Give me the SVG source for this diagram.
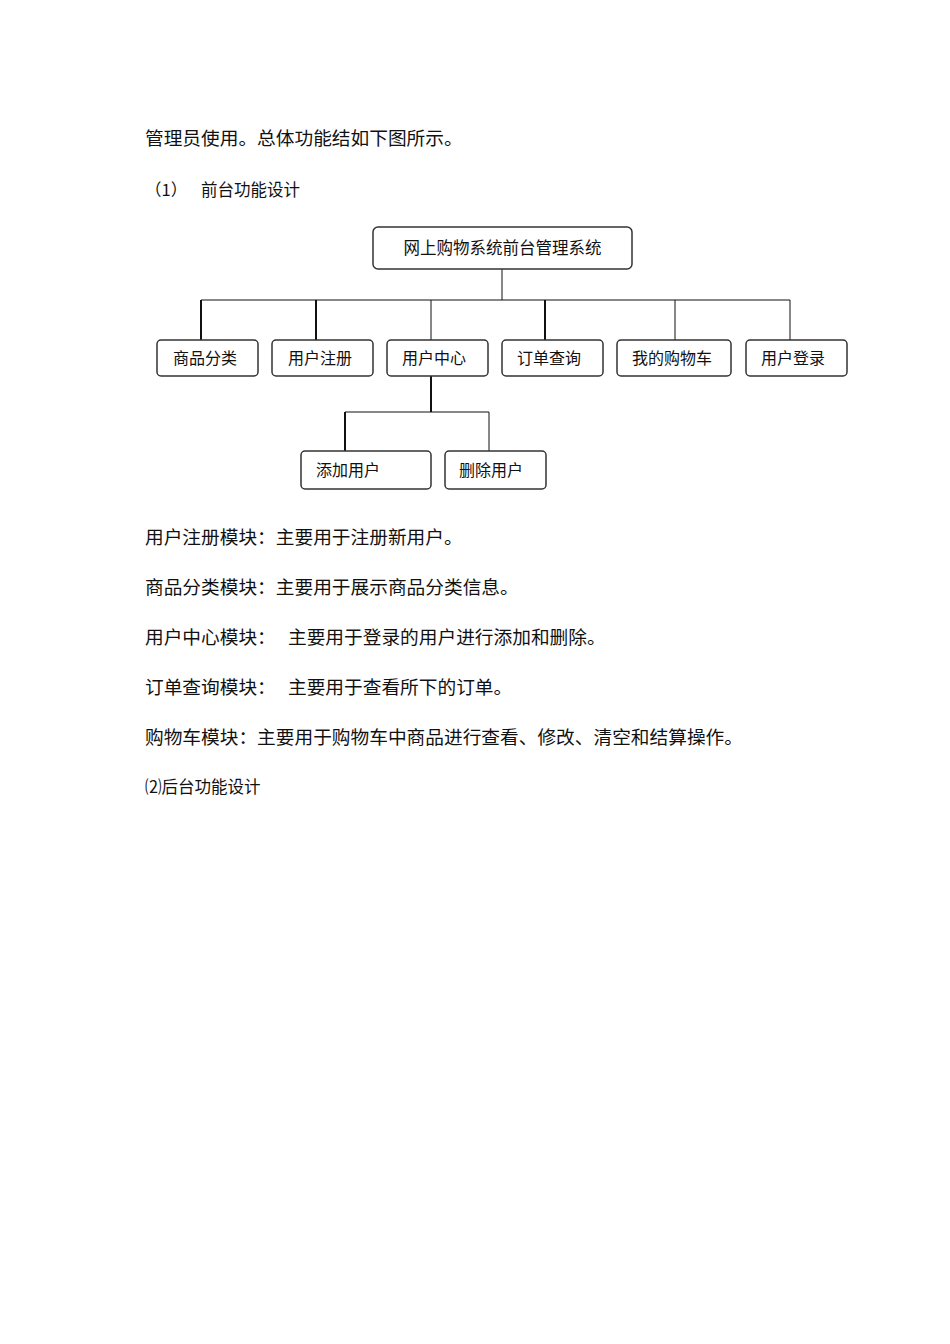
<svg xmlns="http://www.w3.org/2000/svg" width="950" height="1344" viewBox="0 0 950 1344">
<style>
text{font-family:"Noto Sans CJK SC","Noto Sans",sans-serif;fill:#111}
.body{font-size:18.7px}
.small{font-size:16.5px}
.box{fill:#fff;stroke:#333;stroke-width:1.5}
.lbl{font-size:16px;text-anchor:middle}
.c{stroke:#111;fill:none}
.t1{stroke-width:1}
.t2{stroke-width:2}
</style>
<rect width="950" height="1344" fill="#fff"/>
<text class="body" x="145" y="145">管理员使用。总体功能结如下图所示。</text>
<text class="small" x="145" y="196">（1）</text>
<text class="small" x="201" y="196">前台功能设计</text>
<g id="connectors">
<path class="c t1" d="M502 269V300M201 300H790"/>
<path class="c t2" d="M201 300V340M316 300V340M545 300V340"/>
<path class="c t1" d="M431 300V340M675 300V340M790 300V340"/>
<path class="c t2" d="M431 376V412M345 412V451"/>
<path class="c t1" d="M345 412H489M489 412V451"/>
</g>
<g id="root"><rect class="box" x="373" y="227" width="259" height="42" rx="5"/><text class="lbl" style="font-size:16.5px" x="502.5" y="254">网上购物系统前台管理系统</text></g>
<g id="n1"><rect class="box" x="157" y="340" width="101" height="36" rx="4"/><text class="lbl" x="205" y="364">商品分类</text></g>
<g id="n2"><rect class="box" x="272" y="340" width="101" height="36" rx="4"/><text class="lbl" x="320" y="364">用户注册</text></g>
<g id="n3"><rect class="box" x="387" y="340" width="101" height="36" rx="4"/><text class="lbl" x="434" y="364">用户中心</text></g>
<g id="n4"><rect class="box" x="502" y="340" width="101" height="36" rx="4"/><text class="lbl" x="549" y="364">订单查询</text></g>
<g id="n5"><rect class="box" x="617" y="340" width="114" height="36" rx="4"/><text class="lbl" x="672" y="364">我的购物车</text></g>
<g id="n6"><rect class="box" x="746" y="340" width="101" height="36" rx="4"/><text class="lbl" x="793" y="364">用户登录</text></g>
<g id="n7"><rect class="box" x="301" y="451" width="130" height="38" rx="4"/><text x="316" y="476" style="font-size:16px">添加用户</text></g>
<g id="n8"><rect class="box" x="445" y="451" width="101" height="38" rx="4"/><text x="459" y="476" style="font-size:16px">删除用户</text></g>
<text class="body" x="145" y="544">用户注册模块：主要用于注册新用户。</text>
<text class="body" x="145" y="594">商品分类模块：主要用于展示商品分类信息。</text>
<text class="body" x="145" y="644">用户中心模块：<tspan x="288">主要用于登录的用户进行添加和删除。</tspan></text>
<text class="body" x="145" y="694">订单查询模块：<tspan x="288">主要用于查看所下的订单。</tspan></text>
<text class="body" x="145" y="744">购物车模块：主要用于购物车中商品进行查看、修改、清空和结算操作。</text>
<text class="small" x="145" y="793">⑵后台功能设计</text>
</svg>
